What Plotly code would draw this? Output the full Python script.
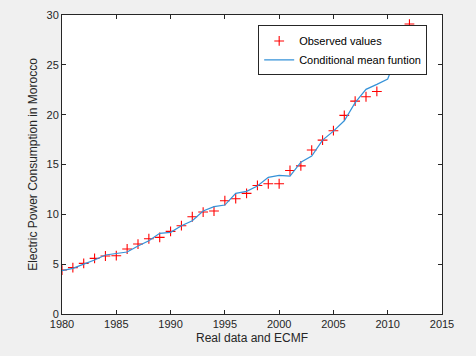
import plotly.graph_objects as go

years = list(range(1980, 2013))
observed = [4.41, 4.65, 5.08, 5.58, 5.82, 5.85, 6.52, 7.02, 7.55, 7.69, 8.29,
            8.86, 9.76, 10.23, 10.33, 11.37, 11.57, 12.10, 12.90, 13.07, 13.07,
            14.40, 14.86, 16.45, 17.45, 18.39, 19.93, 21.36, 21.80, 22.33, 24.95,
            27.00, 29.09]
cond_mean = [4.35, 4.58, 5.01, 5.42, 5.92, 6.05, 6.22, 6.82, 7.35, 8.09, 8.19,
             8.86, 9.36, 10.33, 10.77, 10.93, 12.10, 12.30, 12.84, 13.71, 13.91,
             13.84, 15.23, 15.85, 17.45, 18.35, 19.39, 21.20, 22.54, 23.04, 23.57,
             26.40, 28.40]

x_ticks = [1980, 1985, 1990, 1995, 2000, 2005, 2010, 2015]
y_ticks = [0, 5, 10, 15, 20, 25, 30]

font_family = "Liberation Sans, Arial, sans-serif"
axis_col = "#262626"

fig = go.Figure()
fig.add_trace(go.Scatter(
    x=years, y=observed, mode="markers", name="Observed values",
    marker=dict(symbol="cross-thin", size=7, line=dict(color="#ff0000", width=1.1)),
))
fig.add_trace(go.Scatter(
    x=years, y=cond_mean, mode="lines", name="Conditional mean funtion",
    line=dict(color="#3592d8", width=1.2),
))

axis_common = dict(
    showgrid=False, zeroline=False, showline=True, linecolor=axis_col, linewidth=1,
    mirror="ticks", ticks="inside", ticklen=4, tickcolor=axis_col, automargin=False,
    tickfont=dict(family=font_family, size=11, color=axis_col),
)

fig.update_layout(
    width=476, height=356,
    margin=dict(l=62, r=34, t=15, b=42),
    paper_bgcolor="#f0f0f0", plot_bgcolor="#ffffff",
    font=dict(family=font_family, color=axis_col),
    showlegend=True,
    legend=dict(
        x=0.961, y=0.965, xanchor="right", yanchor="top",
        bgcolor="#ffffff", bordercolor=axis_col, borderwidth=1,
        font=dict(family=font_family, size=11, color="#000000"),
        tracegroupgap=0, itemwidth=30,
    ),
    xaxis=dict(range=[1980, 2015], tickvals=x_ticks,
               title=dict(text="Real data and ECMF", font=dict(size=12, family=font_family, color=axis_col), standoff=4),
               **axis_common),
    yaxis=dict(range=[0, 30], tickvals=y_ticks,
               title=dict(text="Electric Power Consumption in Morocco", font=dict(size=12, family=font_family, color=axis_col), standoff=6),
               **axis_common),
)

fig.write_html("out.html", config={"displayModeBar": False},
               post_script="document.body.style.margin='0';document.body.style.background='#f0f0f0';")
